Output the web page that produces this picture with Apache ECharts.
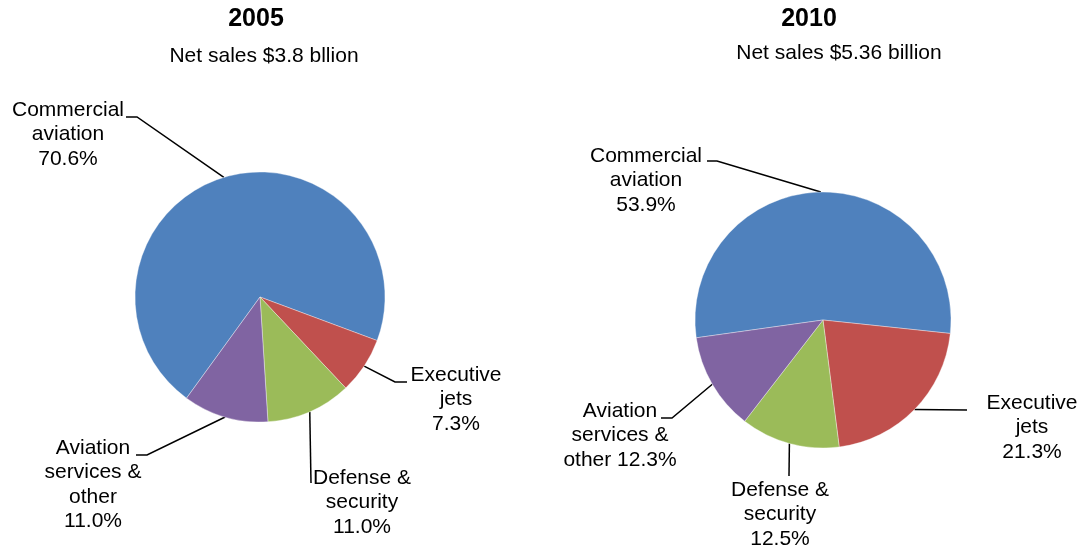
<!DOCTYPE html>
<html>
<head>
<meta charset="utf-8">
<script src="https://cdn.jsdelivr.net/npm/echarts@6/dist/echarts.min.js"></script>
<style>
html,body{margin:0;padding:0;background:#fff;}
#chart{width:1083px;height:550px;}
</style>
</head>
<body>
<div id="chart"></div>
<script>
// ---- data ----
const categories = ['Commercial aviation', 'Executive jets', 'Defense & security', 'Aviation services & other'];
const values2005 = [70.6, 7.3, 11.0, 11.0];
const values2010 = [53.9, 21.3, 12.5, 12.3];
const labelNames2005 = ['Commercial\naviation', 'Executive\njets', 'Defense &\nsecurity', 'Aviation\nservices &\nother'];
const labelNames2010 = ['Commercial\naviation', 'Executive\njets', 'Defense &\nsecurity', 'Aviation\nservices &\nother'];
const valueSep2005 = ['\n', '\n', '\n', '\n'];
const valueSep2010 = ['\n', '\n', '\n', ' '];
const titles = ['2005', '2010'];
const subtitles = ['Net sales $3.8 bllion', 'Net sales $5.36 billion'];

// ---- layout / style ----
const colors = ['#4F81BD', '#C0504D', '#9BBB59', '#8064A2'];
const FONT = '"Liberation Sans", Arial, sans-serif';
const LINE_H = 24.5;
const pies = [
  {
    center: [260, 297], radius: 125, startAngle: 234,
    labelPos: [
      {x: 68, y: 110, pts: [[137, 117], [126, 117]]},
      {x: 456, y: 375, pts: [[395, 382], [407, 382]]},
      {x: 362, y: 478, pts: [[311, 483], [311, 483]]},
      {x: 93, y: 448, pts: [[147, 455], [136, 455]]}
    ]
  },
  {
    center: [823, 320], radius: 128, startAngle: 188,
    labelPos: [
      {x: 646, y: 156, pts: [[717, 161], [707, 161]]},
      {x: 1032, y: 403, pts: [[967, 410], [967, 410]]},
      {x: 780, y: 490, pts: [[789, 476], [789, 476]]},
      {x: 620, y: 411, pts: [[672, 418], [661, 418]]}
    ]
  }
];
const titlePos = [
  {x: 256, y: 19, sx: 264, sy: 56},
  {x: 809, y: 19, sx: 839, sy: 53}
];

const seriesValues = [values2005, values2010];
const seriesNames = [labelNames2005, labelNames2010];
const seriesSeps = [valueSep2005, valueSep2010];

const chart = echarts.init(document.getElementById('chart'), null, {renderer: 'canvas'});

const series = pies.map(function (cfg, si) {
  return {
    type: 'pie',
    name: titles[si],
    center: cfg.center,
    radius: cfg.radius,
    startAngle: cfg.startAngle,
    clockwise: true,
    avoidLabelOverlap: false,
    animation: false,
    silent: true,
    itemStyle: {borderColor: 'rgba(255,255,255,0.6)', borderWidth: 0.6},
    label: {
      show: true,
      position: 'outside',
      color: '#000',
      fontFamily: FONT,
      fontSize: 21,
      lineHeight: LINE_H,
      align: 'center',
      formatter: function (p) {
        return seriesNames[si][p.dataIndex] + seriesSeps[si][p.dataIndex] + seriesValues[si][p.dataIndex].toFixed(1) + '%';
      }
    },
    labelLine: {show: true, lineStyle: {color: '#000', width: 1.5}, length: 10, length2: 10},
    labelLayout: function (p) {
      const L = cfg.labelPos[p.dataIndex];
      const start = p.labelLinePoints ? p.labelLinePoints[0] : L.pts[0];
      return {
        x: L.x,
        y: L.y - LINE_H / 2,
        align: 'center',
        verticalAlign: 'top',
        labelLinePoints: [start, L.pts[0], L.pts[1]]
      };
    },
    emphasis: {disabled: true},
    data: categories.map(function (c, i) {
      return {name: c, value: seriesValues[si][i], itemStyle: {color: colors[i]}};
    })
  };
});

const graphics = [];
titlePos.forEach(function (t, i) {
  graphics.push({
    type: 'text', x: t.x, y: t.y,
    style: {text: titles[i], fill: '#000', font: 'bold 25px ' + FONT, align: 'center', verticalAlign: 'middle'}
  });
  graphics.push({
    type: 'text', x: t.sx, y: t.sy,
    style: {text: subtitles[i], fill: '#000', font: '21px ' + FONT, align: 'center', verticalAlign: 'middle'}
  });
});

chart.setOption({
  animation: false,
  backgroundColor: '#fff',
  graphic: graphics,
  series: series
});
</script>
</body>
</html>
